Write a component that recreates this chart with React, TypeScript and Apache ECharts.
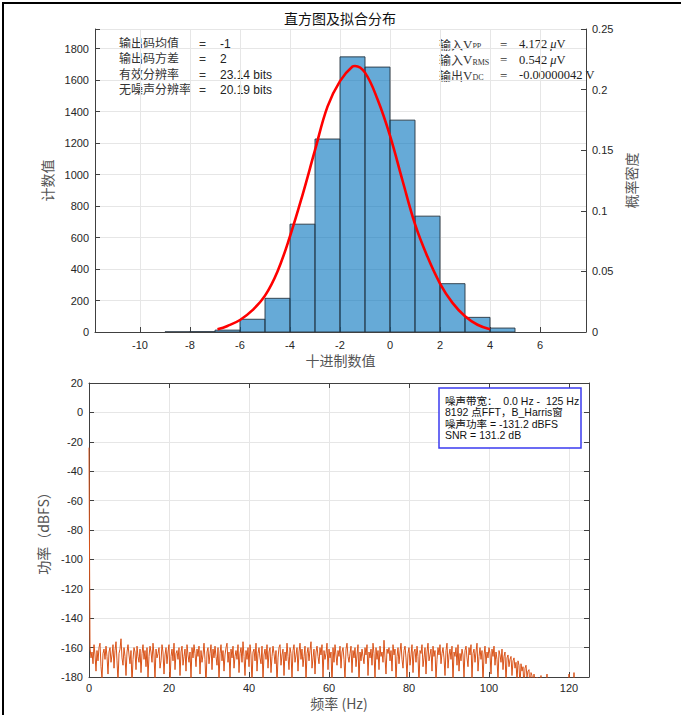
import React, { useEffect, useRef } from "react";
import * as echarts from "echarts";

// ---------- Histogram data ----------
const binEdges = [-9, -8, -7, -6, -5, -4, -3, -2, -1, 0, 1, 2, 3, 4, 5];
const binCounts = [1, 2, 12, 81, 214, 685, 1226, 1748, 1683, 1346, 736, 307, 93, 25];

// Fitted normal pdf (right axis)
const fitX = [-6.9, -6.5, -6, -5.5, -5, -4.5, -4, -3.5, -3, -2.5, -2, -1.5, -1.4, -1, -0.5, 0, 0.5, 1, 1.5, 2, 2.5, 3, 3.5, 4];
const fitPdf = [0.0022, 0.005, 0.0099, 0.018, 0.03, 0.05, 0.079, 0.113, 0.15, 0.186, 0.207, 0.219, 0.2195, 0.214, 0.192, 0.162, 0.125, 0.089, 0.062, 0.04, 0.024, 0.013, 0.006, 0.0022];

const countAxisMax = 1925;
const pdfAxisMax = 0.25;

// ---------- Spectrum data ----------
const dcPower = -24;
const freqStep = 0.25; // Hz between plotted bins
const noisePower = [
  -160, -167, -163, -171, -158, -165, -176, -162, -169, -160, -157, -173, -181, -164, -161, -168, -159, -166, -178, -163, -160, -170, -165, -158, -174,
  -162, -156, -169, -183, -164, -161, -154, -167, -172, -160, -166, -179, -163, -158, -165, -171, -162, -185, -168, -160, -163, -175, -159, -166, -170,
  -161, -177, -164, -158, -168, -162, -173, -160, -180, -166, -159, -163, -170, -157, -165, -182, -161, -167, -164, -160, -174, -169, -158, -163, -178,
  -165, -160, -171, -163, -158, -184, -166, -161, -169, -157, -175, -164, -162, -168, -160, -179, -163, -159, -172, -166, -161, -176, -158, -165, -170,
  -163, -181, -160, -167, -158, -164, -173, -161, -166, -159, -178, -162, -170, -165, -157, -168, -186, -163, -160, -171, -164, -158, -175, -161, -167,
  -159, -166, -172, -160, -183, -164, -158, -169, -162, -176, -165, -160, -157, -170, -163, -180, -161, -167, -159, -174, -166, -162, -168, -158, -177,
  -164, -160, -170, -156, -166, -179, -162, -168, -160, -173, -158, -165, -184, -163, -161, -169, -157, -176, -164, -160, -167, -171, -159, -182, -165,
  -161, -168, -158, -174, -163, -160, -177, -166, -159, -164, -171, -162, -185, -167, -160, -158, -172, -165, -161, -179, -163, -169, -157, -166, -175,
  -160, -164, -181, -162, -158, -170, -165, -160, -176, -163, -157, -168, -161, -173, -166, -159, -183, -164, -160, -169, -162, -156, -174, -167, -161,
  -178, -163, -159, -166, -171, -160, -165, -158, -180, -162, -168, -164, -157, -175, -161, -167, -163, -186, -160, -170, -158, -165, -172, -162, -166,
  -159, -174, -163, -160, -168, -182, -161, -157, -166, -170, -164, -159, -177, -162, -167, -160, -173, -165, -158, -184, -163, -169, -161, -166, -171,
  -160, -165, -158, -179, -163, -167, -161, -172, -157, -164, -181, -160, -168, -162, -175, -159, -166, -163, -170, -155, -167, -178, -161, -164, -160,
  -169, -162, -176, -158, -165, -161, -183, -166, -160, -171, -163, -157, -168, -174, -162, -159, -167, -180, -164, -160, -172, -165, -158, -177, -163,
  -161, -170, -159, -166, -185, -162, -164, -158, -173, -167, -160, -178, -163, -157, -169, -165, -161, -176, -159, -166, -162, -182, -168, -160, -165,
  -158, -171, -164, -160, -167, -179, -162, -157, -174, -165, -161, -168, -159, -183, -163, -166, -160, -172, -158, -176, -164, -169, -161, -165, -180,
  -162, -159, -167, -173, -160, -165, -158, -181, -164, -161, -170, -163, -157, -176, -166, -160, -168, -162, -184, -165, -159, -171, -163, -167, -160,
  -164, -178, -161, -166, -159, -172, -163, -168, -182, -162, -165, -170, -161, -175, -166, -163, -184, -167, -165, -173, -168, -166, -179, -169, -167,
  -174, -170, -183, -169, -172, -186, -171, -176, -173, -188, -174, -172, -180, -176, -175, -190, -177, -179, -185, -178, -183, -192, -180, -186, -188,
  -184, -179, -191, -187, -183, -195, -186, -178, -192, -189, -196, -188, -193, -190, -197, -191, -188, -194, -199, -192, -195, -193, -198, -190, -196,
  -194, -191, -197, -193, -178, -196, -192, -198, -195, -177, -199, -194, -197, -193, -198, -196, -199, -195, -197, -194, -198, -196, -199, -197, -198,
];

const statsLeft = [
  ["输出码均值", "=", "-1"],
  ["输出码方差", "=", "2"],
  ["有效分辨率", "=", "23.14 bits"],
  ["无噪声分辨率", "=", "20.19 bits"],
];
const statsRight = [
  ["输入", "V", "PP", "4.172 ", "μ", "V"],
  ["输入", "V", "RMS", "0.542 ", "μ", "V"],
  ["输出", "V", "DC", "-0.00000042 V", "", ""],
];
const noteLines = [
  "噪声带宽：  0.0 Hz -  125 Hz",
  "8192 点FFT，B_Harris窗",
  "噪声功率 = -131.2 dBFS",
  "SNR = 131.2 dB",
];

const SANS = "'Liberation Sans', Arial, 'Noto Sans CJK SC', sans-serif";
const SERIF = "'Liberation Serif', 'DejaVu Serif', 'Noto Sans CJK SC', serif";
const AX = "#404040";
const TICK_TXT = "#262626";
const GRID_C = "#e6e6e6";

export default function App() {
  const ref = useRef<HTMLDivElement>(null);

  useEffect(() => {
    if (!ref.current) return;
    const chart = echarts.init(ref.current, undefined, { renderer: "svg" });

    const histData = binCounts.map((c, i) => [binEdges[i], binEdges[i + 1], c]);
    const fitData = fitX.map((x, i) => [x, fitPdf[i]]);
    const specData: number[][] = [[0, dcPower]];
    noisePower.forEach((p, i) => specData.push([(i + 1) * freqStep, p]));

    const axisLabelBase = { color: TICK_TXT, fontSize: 11, fontFamily: SANS };
    const axLine = { show: true, onZero: false, lineStyle: { color: AX, width: 1 } };
    const tickIn = { show: true, inside: true, length: 5, lineStyle: { color: AX } };
    const nameStyle = { color: "#555", fontSize: 14, fontFamily: "'Noto Sans CJK SC', sans-serif" };

    const graphics: any[] = [];
    // figure frame
    graphics.push({ type: "line", shape: { x1: 2, y1: 3, x2: 681, y2: 3 }, style: { stroke: "#000", lineWidth: 2 }, silent: true });
    graphics.push({ type: "line", shape: { x1: 3, y1: 2, x2: 3, y2: 715 }, style: { stroke: "#000", lineWidth: 2 }, silent: true });

    // title
    graphics.push({
      type: "text", x: 340, y: 18,
      style: { text: "直方图及拟合分布", font: "14px 'Noto Sans CJK SC', sans-serif", fill: "#111", textAlign: "center", textVerticalAlign: "middle" },
    });

    statsLeft.forEach((row, i) => {
      const y = 44 + i * 15.3;
      graphics.push({ type: "text", x: 119, y, style: { text: row[0], font: `12px ${SANS}`, fill: "#333", textVerticalAlign: "middle" } });
      graphics.push({ type: "text", x: 199, y, style: { text: row[1], font: `12px ${SANS}`, fill: "#333", textVerticalAlign: "middle" } });
      graphics.push({ type: "text", x: 220, y, style: { text: row[2], font: `12px ${SANS}`, fill: "#222", textVerticalAlign: "middle" } });
    });

    statsRight.forEach((row, i) => {
      const y = 44 + i * 15.5;
      graphics.push({
        type: "text", x: 439, y,
        style: {
          text: `{a|${row[0]}}{v|${row[1]}}{s|${row[2]}}`,
          textVerticalAlign: "middle",
          rich: {
            a: { fontSize: 12, fontFamily: "'Noto Sans CJK SC', sans-serif", fill: "#333" },
            v: { fontSize: 13, fontFamily: SERIF, fill: "#333" },
            s: { fontSize: 8, fontFamily: SERIF, fill: "#333", verticalAlign: "bottom", padding: [5, 0, 0, 0] },
          },
        },
      });
      graphics.push({ type: "text", x: 500, y, style: { text: "=", font: `13px ${SERIF}`, fill: "#333", textVerticalAlign: "middle" } });
      graphics.push({
        type: "text", x: 519, y,
        style: {
          text: `{n|${row[3]}}` + (row[4] ? `{m|${row[4]}}{n|${row[5]}}` : ""),
          textVerticalAlign: "middle",
          rich: {
            n: { fontSize: 12.5, fontFamily: SERIF, fill: "#222" },
            m: { fontSize: 12.5, fontFamily: SERIF, fontStyle: "italic", fill: "#222" },
          },
        },
      });
    });

    // note box in spectrum
    graphics.push({ type: "rect", shape: { x: 439, y: 388, width: 142, height: 60 }, style: { fill: "#fff", stroke: "#3b3bf0", lineWidth: 1.5 }, z: 10 });
    noteLines.forEach((t, i) => {
      graphics.push({ type: "text", x: 445, y: 401 + i * 11.4, z: 11, style: { text: t, font: `10.5px ${SANS}`, fill: "#111", textVerticalAlign: "middle" } });
    });

    const option: any = {
      animation: false,
      backgroundColor: "#fff",
      grid: [
        { left: 95, top: 29, width: 491, height: 303 },
        { left: 89, top: 383, width: 500, height: 294 },
      ],
      xAxis: [
        {
          gridIndex: 0, type: "value", min: -11.8, max: 7.84, splitNumber: 10, minInterval: 2, maxInterval: 2,
          axisLine: axLine, axisTick: tickIn,
          axisLabel: { ...axisLabelBase, margin: 7, formatter: (v: number) => (Math.abs(v % 2) < 1e-9 ? String(v) : "") },
          splitLine: { show: true, lineStyle: { color: GRID_C } },
          name: "十进制数值", nameLocation: "middle", nameGap: 21, nameTextStyle: nameStyle,
        },
        {
          gridIndex: 1, type: "value", min: 0, max: 125, interval: 20,
          axisLine: axLine, axisTick: tickIn,
          axisLabel: { ...axisLabelBase, margin: 5, formatter: (v: number) => (v % 20 === 0 ? String(v) : "") },
          splitLine: { show: true, lineStyle: { color: GRID_C } },
          name: "频率 (Hz)", nameLocation: "middle", nameGap: 19, nameTextStyle: nameStyle,
        },
        {
          gridIndex: 1, type: "value", min: 0, max: 125, interval: 20, position: "top",
          axisLine: axLine, axisTick: tickIn, axisLabel: { show: false }, splitLine: { show: false },
        },
      ],
      yAxis: [
        {
          gridIndex: 0, type: "value", min: 0, max: countAxisMax, interval: 200, position: "left",
          axisLine: axLine, axisTick: tickIn,
          axisLabel: { ...axisLabelBase, margin: 6, formatter: (v: number) => (v % 200 === 0 ? String(v) : "") },
          splitLine: { show: true, lineStyle: { color: GRID_C } },
          name: "计数值", nameLocation: "middle", nameGap: 33, nameRotate: 90, nameTextStyle: nameStyle,
        },
        {
          gridIndex: 0, type: "value", min: 0, max: pdfAxisMax, interval: 0.05, position: "right",
          axisLine: axLine, axisTick: tickIn,
          axisLabel: { ...axisLabelBase, margin: 6 },
          splitLine: { show: false },
          name: "概率密度", nameLocation: "middle", nameGap: 27, nameRotate: 90, nameTextStyle: nameStyle,
        },
        {
          gridIndex: 1, type: "value", min: -180, max: 20, interval: 20, position: "left",
          axisLine: axLine, axisTick: tickIn,
          axisLabel: { ...axisLabelBase, margin: 6 },
          splitLine: { show: true, lineStyle: { color: GRID_C } },
          name: "功率（dBFS）", nameLocation: "middle", nameGap: 24, nameRotate: 90, nameTextStyle: nameStyle,
        },
        {
          gridIndex: 1, type: "value", min: -180, max: 20, interval: 20, position: "right",
          axisLine: axLine, axisTick: tickIn, axisLabel: { show: false }, splitLine: { show: false },
        },
      ],
      series: [
        {
          type: "custom", xAxisIndex: 0, yAxisIndex: 0, data: histData, encode: { x: [0, 1], y: 2 },
          clip: true,
          renderItem: (params: any, api: any) => {
            const p0 = api.coord([api.value(0), api.value(2)]);
            const p1 = api.coord([api.value(1), 0]);
            return {
              type: "rect",
              shape: { x: p0[0], y: p0[1], width: p1[0] - p0[0], height: p1[1] - p0[1] },
              style: { fill: "rgba(0,114,189,0.6)", stroke: "#26343f", lineWidth: 0.9 },
            };
          },
        },
        {
          type: "line", xAxisIndex: 0, yAxisIndex: 1, data: fitData, smooth: 0.4, showSymbol: false,
          lineStyle: { color: "#ff0000", width: 2.6 }, z: 5,
        },
        {
          type: "line", xAxisIndex: 1, yAxisIndex: 2, data: specData, showSymbol: false, clip: true,
          lineStyle: { color: "#D95319", width: 1 },
        },
      ],
      graphic: graphics,
    };

    chart.setOption(option);
    return () => chart.dispose();
  }, []);

  return <div ref={ref} style={{ position: "absolute", left: 0, top: 0, width: 681, height: 715 }} />;
}
